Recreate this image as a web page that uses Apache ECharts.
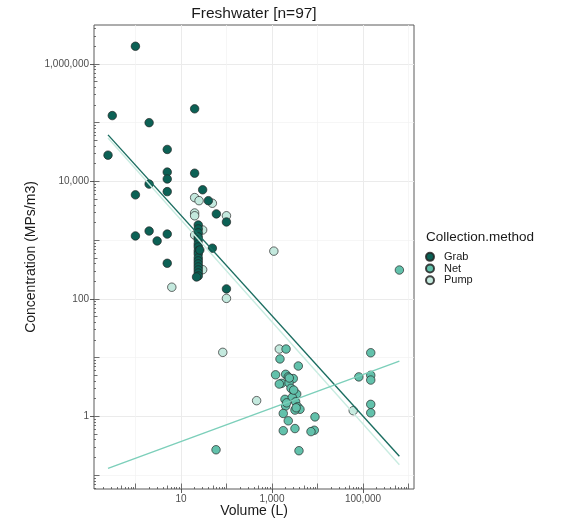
<!DOCTYPE html>
<html>
<head>
<meta charset="utf-8">
<script src="https://cdn.jsdelivr.net/npm/echarts@6/dist/echarts.min.js"></script>
<style>
  html, body { margin: 0; padding: 0; background: #ffffff; }
  #chart { width: 562px; height: 522px; }
</style>
</head>
<body>
<div id="chart"></div>
<script>
// Microplastic concentration vs. sampled volume, freshwater samples
const methods = ['Grab', 'Net', 'Pump'];

const grabVolume = [1, 0.31, 2, 20, 0.25, 5, 5, 5, 5, 20, 1, 2, 30, 40, 60, 100, 1, 2, 3, 5, 5, 100, 49,
  24, 24, 24, 24, 24, 24, 24, 24, 24, 24, 24, 24, 24, 24, 24, 24, 22, 26];
const grabConc = [2000000, 132000, 100000, 172000, 28000, 35000, 14400, 11000, 6700, 13800, 5900, 9000, 7200, 4700, 2800, 2040, 1180, 1430, 970, 1270, 404, 148, 730,
  1815, 1550, 1330, 1135, 1010, 860, 766, 655, 582, 498, 443, 394, 350, 311, 276, 246, 236, 680];

const netVolume = [2040, 1500, 3790, 1200, 2000, 2280, 2940, 1630, 2370, 2620, 3100, 3490, 1930, 2790, 3310, 2000, 3670, 4120, 3200, 1770,
  8810, 2280, 3200, 1770, 8500, 7200, 3920, 1450, 630000, 148000, 81000, 148000, 148000, 148000, 148000, 59, 2400, 3000, 2100, 3400];
const netConc = [14.0, 9.5, 7.2, 5.1, 5.2, 4.7, 4.4, 3.65, 3.7, 3.0, 2.5, 2.4, 1.95, 2.1, 1.77, 1.5, 1.46, 1.32, 1.28, 1.12,
  0.98, 0.84, 0.62, 0.57, 0.58, 0.55, 0.26, 3.55, 310, 12.1, 4.7, 5.0, 4.15, 1.6, 1.15, 0.27, 4.5, 2.8, 1.7, 1.4];

const pumpVolume = [20, 25, 49, 20, 20, 100, 30, 20, 1100, 30, 6.3, 100, 83, 460, 1450, 61000];
const pumpConc = [5300, 4700, 4250, 2900, 2600, 2600, 1490, 1220, 650, 314, 158, 102, 12.3, 1.85, 14.0, 1.25];

// Linear fits on log-log scale, drawn across the sampled volume range
const fitVolume = [0.25, 630000];
const grabFitConc = [62000, 0.21];
const netFitConc = [0.13, 8.75];
const pumpFitConc = [55000, 0.15];

// Axis breaks
const xLabelTicks = [10, 1000, 100000];
const xMinorBreaks = [1, 100, 10000, 1000000];
const yLabelTicks = [1, 100, 10000, 1000000];
const yMinorBreaks = [0.1, 10, 1000, 100000];

const colors = { Grab: '#0c6155', Net: '#62c1ab', Pump: '#c4e9de' };
const fitColors = { Grab: '#1a6d60', Net: '#7ccfba', Pump: '#c9ece1' };
const FONT = '"Liberation Sans", Arial, "DejaVu Sans", sans-serif';

const X_MIN = 0.123, X_MAX = 1.32e6;
const Y_MIN = 0.058, Y_MAX = 4.6e6;

// log tick marks drawn inside the panel (decade / five / other)
function logMarks(lo, hi, mults) {
  const out = [];
  for (let e = -3; e <= 7; e++) {
    mults.forEach(m => {
      const v = m * Math.pow(10, e);
      if (v >= lo && v <= hi) out.push(v);
    });
  }
  return out;
}

function fmt(v) {
  const r = Math.round(v);
  return r.toString().replace(/\B(?=(\d{3})+(?!\d))/g, ',');
}

function zip(a, b) { return a.map((v, i) => [v, b[i]]); }

function baseAxis(lo, hi, pos) {
  return {
    type: 'log', logBase: 10, min: lo, max: hi, position: pos,
    axisLine: { show: false },
    axisLabel: { show: false },
    axisTick: { show: false },
    splitLine: { show: false },
    minorTick: { show: false },
    minorSplitLine: { show: false }
  };
}

function markAxis(lo, hi, pos, values, len) {
  const a = baseAxis(lo, hi, pos);
  a.axisTick = { show: true, inside: true, length: len, customValues: values,
    lineStyle: { color: '#4d4d4d', width: 0.8 } };
  return a;
}

function makeAxes(lo, hi, pos, labelTicks, minorBreaks) {
  const main = baseAxis(lo, hi, pos);
  main.axisTick = { show: true, length: 4, customValues: labelTicks,
    lineStyle: { color: '#333333', width: 0.8 } };
  main.axisLabel = { show: true, customValues: labelTicks, formatter: fmt,
    color: '#4d4d4d', fontSize: 10, fontFamily: FONT, margin: 5 };
  main.splitLine = { show: true, lineStyle: { color: '#ebebeb', width: 1 } };
  const minor = baseAxis(lo, hi, pos);
  minor.axisTick = { show: false, customValues: minorBreaks };
  minor.splitLine = { show: true, lineStyle: { color: '#f2f2f2', width: 0.7 } };
  return [
    main, minor,
    markAxis(lo, hi, pos, logMarks(lo, hi, [2, 3, 4, 6, 7, 8, 9]), 2),
    markAxis(lo, hi, pos, logMarks(lo, hi, [5]), 3.5),
    markAxis(lo, hi, pos, logMarks(lo, hi, [1]), 5.5)
  ];
}

const pointStyle = m => ({
  color: colors[m], borderColor: 'rgba(35,35,35,0.85)', borderWidth: 0.8, opacity: 1
});

const chart = echarts.init(document.getElementById('chart'), null, { renderer: 'canvas' });

chart.setOption({
  animation: false,
  backgroundColor: '#ffffff',
  grid: { left: 94, right: 148, top: 25, bottom: 33, show: true,
    backgroundColor: '#ffffff', borderColor: '#5a5a5a', borderWidth: 1 },
  xAxis: makeAxes(X_MIN, X_MAX, 'bottom', xLabelTicks, xMinorBreaks),
  yAxis: makeAxes(Y_MIN, Y_MAX, 'left', yLabelTicks, yMinorBreaks),
  legend: {
    data: methods, orient: 'vertical', left: 420, top: 246,
    itemWidth: 18, itemHeight: 8, itemGap: 0,
    textStyle: { fontSize: 11, color: '#1a1a1a', fontFamily: FONT, lineHeight: 11.7 },
    selectedMode: false
  },
  graphic: [
    { type: 'text', x: 254, y: 13.5, style: { text: 'Freshwater [n=97]', fontSize: 15.5,
      fontFamily: FONT, fill: '#1a1a1a', align: 'center', verticalAlign: 'middle' } },
    { type: 'text', x: 254, y: 511, style: { text: 'Volume (L)', fontSize: 14,
      fontFamily: FONT, fill: '#1a1a1a', align: 'center', verticalAlign: 'middle' } },
    { type: 'text', x: 31, y: 257, rotation: Math.PI / 2, style: { text: 'Concentration (MPs/m3)',
      fontSize: 14, fontFamily: FONT, fill: '#1a1a1a', align: 'center', verticalAlign: 'middle' } },
    { type: 'text', x: 426, y: 237, style: { text: 'Collection.method', fontSize: 13.5,
      fontFamily: FONT, fill: '#1a1a1a', align: 'left', verticalAlign: 'middle' } }
  ],
  series: [
    { name: 'Pump', type: 'scatter', data: zip(pumpVolume, pumpConc), symbol: 'circle',
      symbolSize: 8.5, itemStyle: pointStyle('Pump'), emphasis: { disabled: true }, z: 3 },
    { name: 'Net', type: 'scatter', data: zip(netVolume, netConc), symbol: 'circle',
      symbolSize: 8.5, itemStyle: pointStyle('Net'), emphasis: { disabled: true }, z: 3 },
    { name: 'Grab', type: 'scatter', data: zip(grabVolume, grabConc), symbol: 'circle',
      symbolSize: 8.5, itemStyle: pointStyle('Grab'), emphasis: { disabled: true }, z: 3 },
    { name: 'Grab fit', type: 'line', data: zip(fitVolume, grabFitConc), showSymbol: false,
      lineStyle: { color: fitColors.Grab, width: 1.4 }, silent: true, z: 4 },
    { name: 'Pump fit', type: 'line', data: zip(fitVolume, pumpFitConc), showSymbol: false,
      lineStyle: { color: fitColors.Pump, width: 1.4 }, silent: true, z: 4 },
    { name: 'Net fit', type: 'line', data: zip(fitVolume, netFitConc), showSymbol: false,
      lineStyle: { color: fitColors.Net, width: 1.4 }, silent: true, z: 4 }
  ]
});
</script>
</body>
</html>
